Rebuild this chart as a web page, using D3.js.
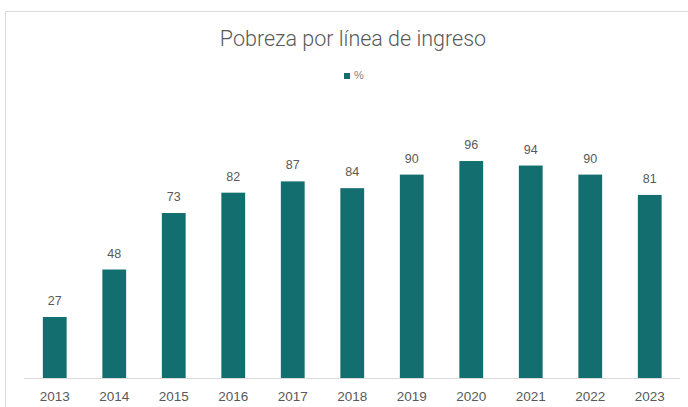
<!DOCTYPE html>
<html>
<head>
<meta charset="utf-8">
<script src="https://cdn.jsdelivr.net/npm/d3@7"></script>
<style>
  body { margin: 0; background: #fff; }
  svg { display: block; font-family: "Liberation Sans", Arial, sans-serif; }
</style>
</head>
<body>
<svg id="chart"></svg>
<script>
  var years = ["2013", "2014", "2015", "2016", "2017", "2018", "2019", "2020", "2021", "2022", "2023"];
  var values = [27, 48, 73, 82, 87, 84, 90, 96, 94, 90, 81];
  var seriesName = "%";
  var title = "Pobreza por línea de ingreso";

  var width = 688,
    height = 407;
  var barColor = "#136f6f";

  var chart = d3.select("#chart")
    .attr("width", width)
    .attr("height", height);

  // chart frame (bottom and right are outside the window)
  chart.append("rect")
    .attr("x", 5.5)
    .attr("y", 11.5)
    .attr("width", 720)
    .attr("height", 420)
    .attr("fill", "#fff")
    .attr("stroke", "#d9d9d9")
    .attr("stroke-width", 1);

  chart.append("text")
    .attr("x", 353)
    .attr("y", 46)
    .attr("text-anchor", "middle")
    .attr("font-family", "Roboto, sans-serif")
    .attr("font-weight", 300)
    .attr("font-size", 21.5)
    .attr("fill", "#595959")
    .text(title);

  // legend
  chart.append("rect")
    .attr("x", 344)
    .attr("y", 73)
    .attr("width", 6)
    .attr("height", 6)
    .attr("fill", barColor);
  chart.append("text")
    .attr("x", 354)
    .attr("y", 79)
    .attr("font-size", 11)
    .attr("fill", "#7f7f7f")
    .text(seriesName);

  var x = d3.scaleBand()
    .domain(years)
    .range([25, 679.5])
    .paddingInner(0.6)
    .paddingOuter(0.3);

  var y = d3.scaleLinear()
    .domain([0, 100])
    .range([378, 152]);

  chart.selectAll("rect.bar")
    .data(values)
    .enter().append("rect")
    .attr("class", "bar")
    .attr("x", function(d, i) { return x(years[i]); })
    .attr("y", function(d) { return y(d); })
    .attr("width", x.bandwidth())
    .attr("height", function(d) { return y(0) - y(d); })
    .attr("fill", barColor);

  chart.selectAll("text.label")
    .data(values)
    .enter().append("text")
    .attr("class", "label")
    .attr("x", function(d, i) { return x(years[i]) + x.bandwidth() / 2; })
    .attr("y", function(d) { return y(d) - 12; })
    .attr("text-anchor", "middle")
    .attr("font-size", 12.5)
    .attr("fill", "#595959")
    .text(function(d) { return d; });

  var axis = chart.append("g")
    .attr("transform", "translate(0," + y(0) + ")")
    .call(d3.axisBottom(x).tickSize(0).tickPadding(13));
  axis.select(".domain")
    .attr("stroke", "#d9d9d9")
    .attr("d", "M24,0.5H680");
  axis.selectAll("text")
    .attr("font-family", "Liberation Sans, Arial, sans-serif")
    .attr("font-size", 13.5)
    .attr("fill", "#595959");
</script>
</body>
</html>
